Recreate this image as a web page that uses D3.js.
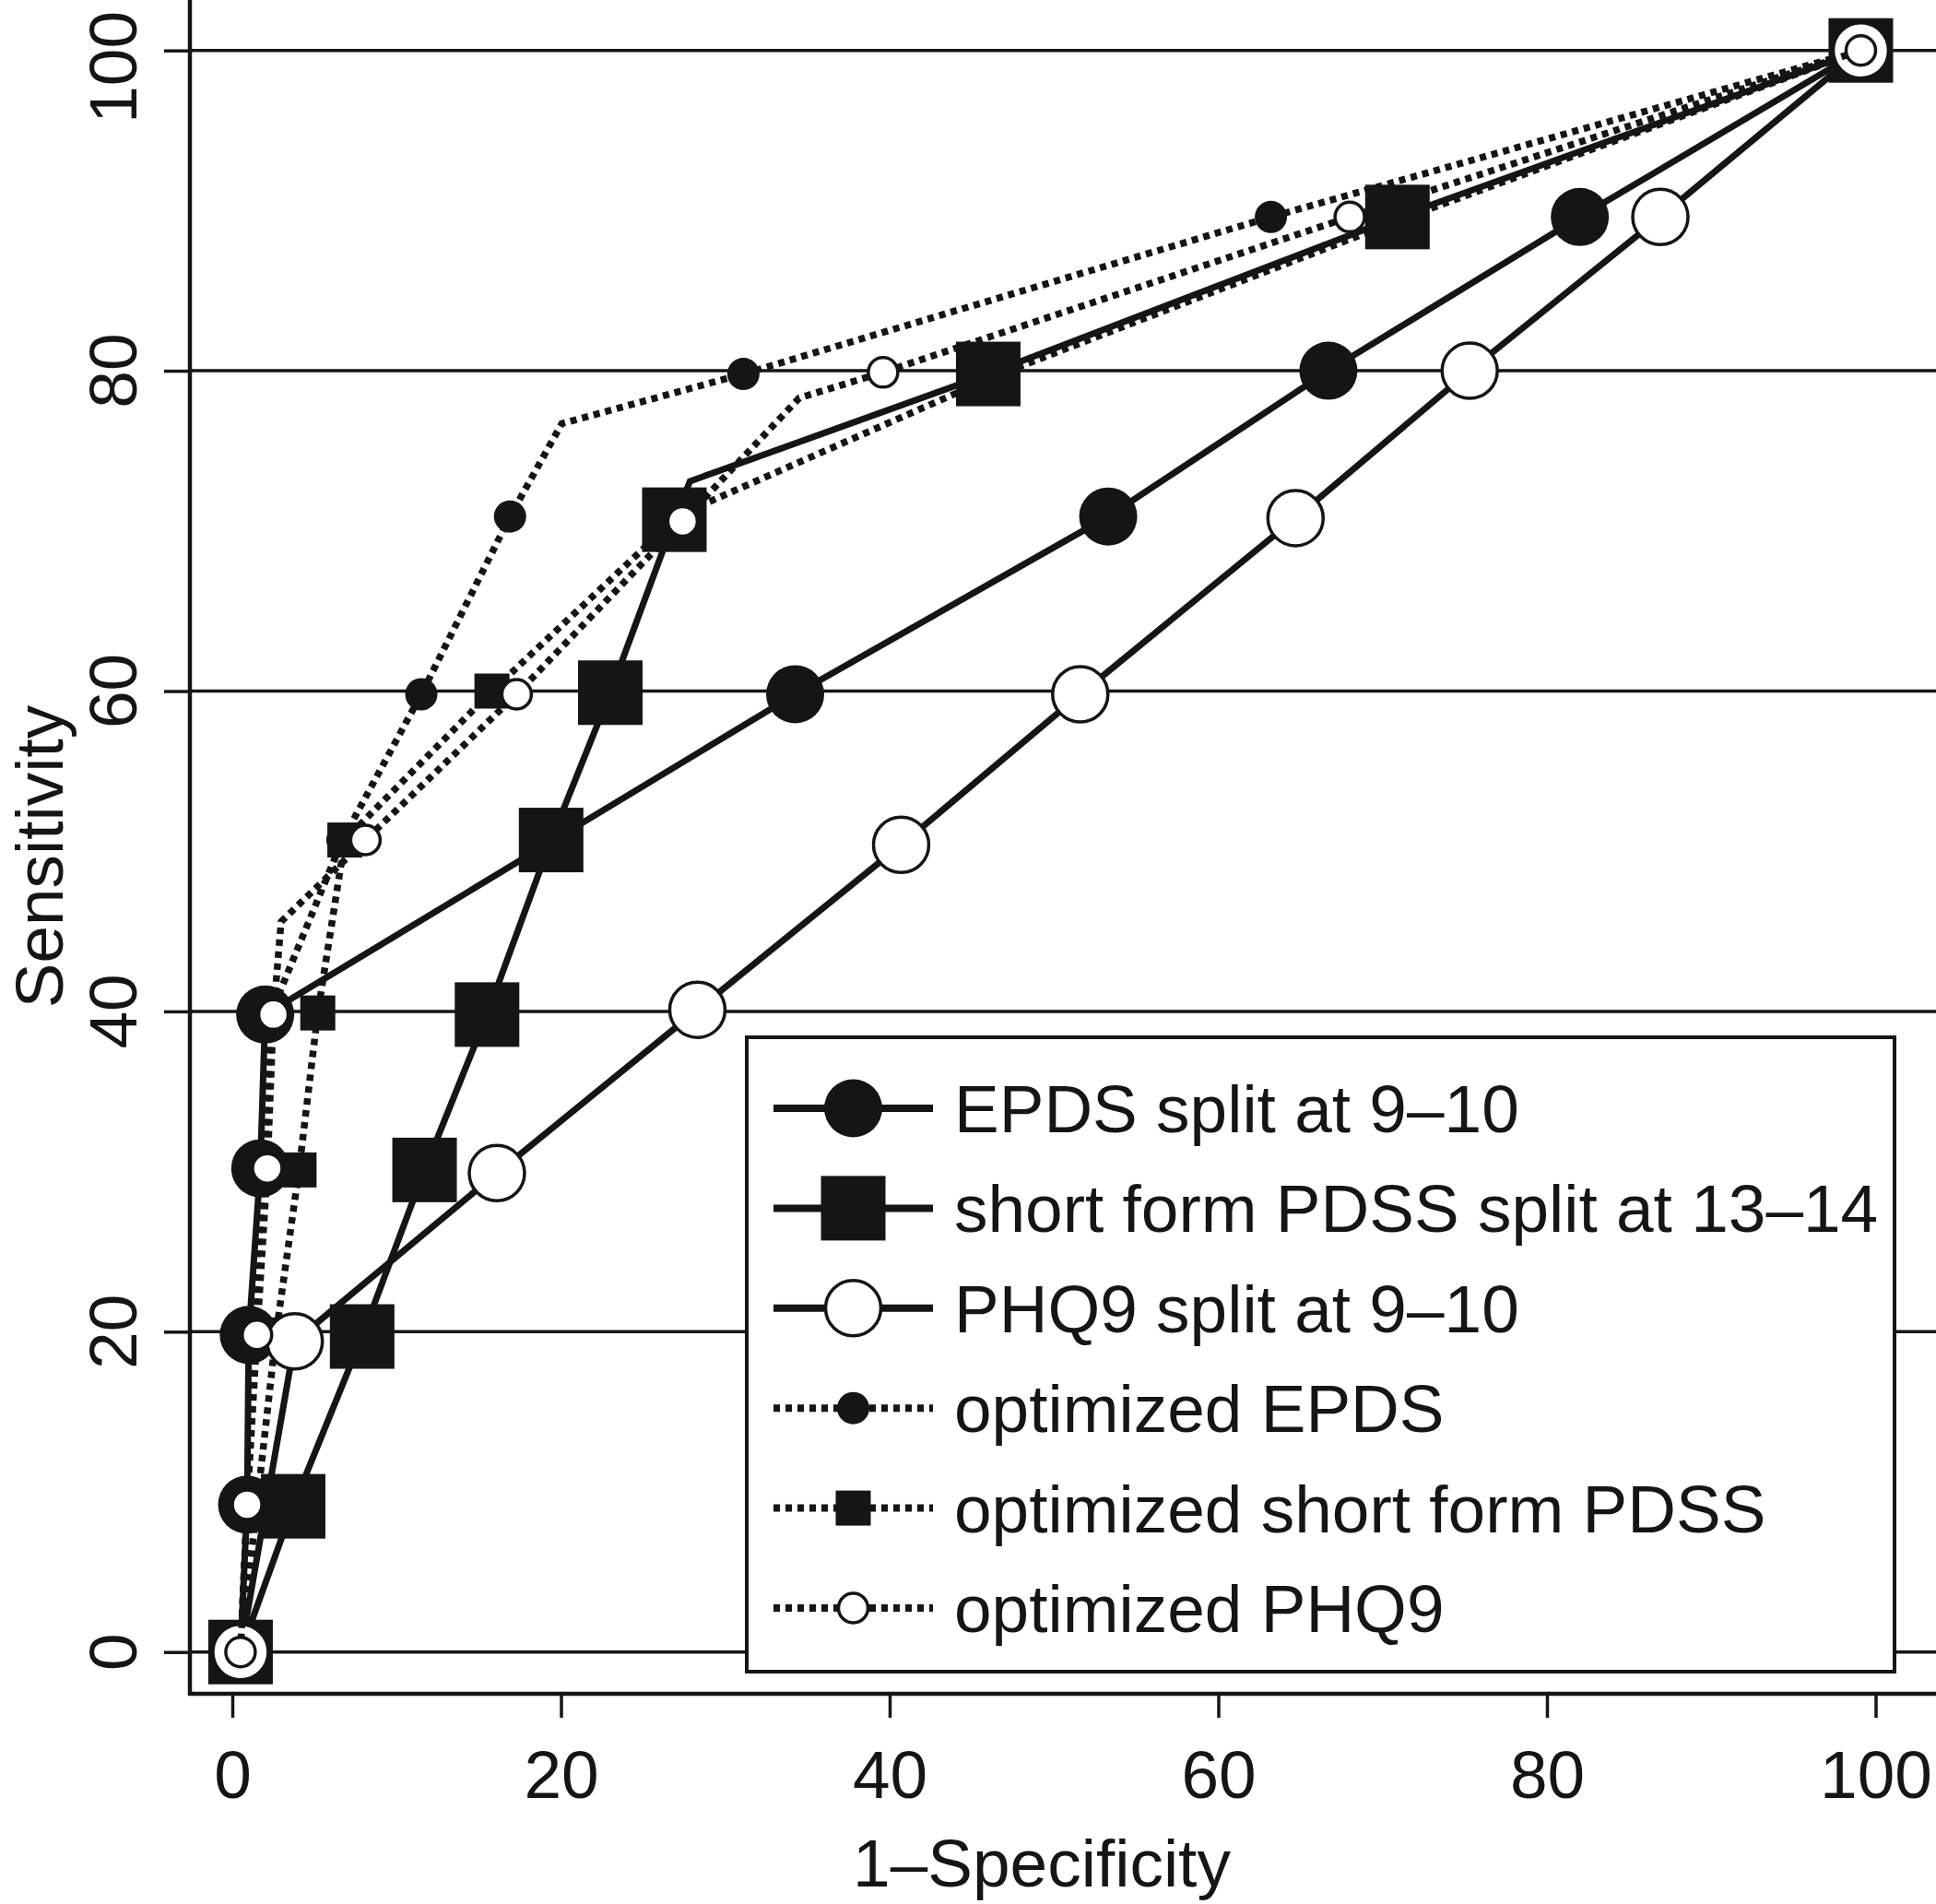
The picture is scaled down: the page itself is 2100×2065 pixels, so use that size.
<!DOCTYPE html>
<html><head><meta charset="utf-8">
<script src="https://cdn.jsdelivr.net/npm/d3@7"></script>
<style>html,body{margin:0;padding:0;background:#fff;}svg{display:block;}</style>
</head><body>
<script>
// ---- data ----
const xTicks = [0, 20, 40, 60, 80, 100];
const yTicks = [0, 20, 40, 60, 80, 100];

const epdsX = [0.5, 0.9, 1.0, 1.7, 2.0, 34.25, 53.3, 66.7, 82.0, 99.1];
const epdsY = [0, 9.2, 19.8, 30.2, 39.8, 59.8, 70.9, 80.0, 89.6, 100];
const epdsM = [1, 1, 1, 1, 1, 1, 1, 1, 1, 1];

const pdssX = [0.5, 3.7, 7.9, 11.7, 15.5, 19.4, 23.0, 26.9, 27.85, 46.0, 70.9, 99.1];
const pdssY = [0, 9.1, 19.7, 30.1, 39.8, 50.7, 59.9, 70.7, 73.1, 79.8, 89.6, 100];
const pdssM = [1, 1, 1, 1, 1, 1, 1, 1, 0, 1, 1, 1];

const phqX = [0.5, 3.8, 16.1, 28.3, 40.7, 51.6, 64.7, 75.3, 86.9, 99.1];
const phqY = [0, 19.4, 29.9, 40.1, 50.4, 59.8, 70.8, 80.0, 89.6, 100];
const phqM = [1, 1, 1, 1, 1, 1, 1, 1, 1, 1];

const optEpdsX = [0.5, 0.9, 1.2, 1.9, 2.4, 6.7, 11.5, 16.9, 20.05, 31.1, 63.2, 99.1];
const optEpdsY = [0, 9.2, 19.8, 30.2, 40.0, 50.7, 59.8, 70.9, 76.7, 79.8, 89.6, 100];
const optEpdsM = [1, 1, 1, 1, 1, 1, 1, 1, 0, 1, 1, 1];

const optPdssX = [0.5, 1.5, 2.65, 4.06, 5.2, 6.85, 15.8, 27.2, 46.5, 71.0, 99.1];
const optPdssY = [0, 9.2, 19.8, 30.1, 39.9, 50.7, 60.0, 71.0, 79.7, 89.4, 100];
const optPdssM = [1, 1, 1, 1, 1, 1, 1, 1, 1, 1, 1];

const optPhqX = [0.5, 0.9, 1.5, 2.13, 2.5, 2.97, 8.1, 17.3, 27.4, 34.5, 39.6, 68.0, 99.1];
const optPhqY = [0, 9.2, 19.8, 30.2, 39.8, 45.6, 50.7, 59.8, 70.6, 78.3, 79.9, 89.6, 100];
const optPhqM = [1, 1, 1, 1, 1, 0, 1, 1, 1, 0, 1, 1, 1];

const legendLabels = ["EPDS split at 9\u201310", "short form PDSS split at 13\u201314", "PHQ9 split at 9\u201310",
  "optimized EPDS", "optimized short form PDSS", "optimized PHQ9"];

// ---- styles ----
const INK = "#151515";
const W = 2100, H = 2065;
const FONT = "'Liberation Sans', Arial, Helvetica, sans-serif";
const FS = 73;

const series = [
  {key: "optEpds", xs: optEpdsX, ys: optEpdsY, ms: optEpdsM, dash: true, shape: "circle", size: "small", fill: INK},
  {key: "optPdss", xs: optPdssX, ys: optPdssY, ms: optPdssM, dash: true, shape: "square", size: "small", fill: INK},
  {key: "epds", xs: epdsX, ys: epdsY, ms: epdsM, dash: false, shape: "circle", size: "big", fill: INK},
  {key: "pdss", xs: pdssX, ys: pdssY, ms: pdssM, dash: false, shape: "square", size: "big", fill: INK},
  {key: "phq", xs: phqX, ys: phqY, ms: phqM, dash: false, shape: "circle", size: "big", fill: "#fff"},
  {key: "optPhq", xs: optPhqX, ys: optPhqY, ms: optPhqM, dash: true, shape: "circle", size: "small", fill: "#fff"}
];
const legendOrder = ["epds", "pdss", "phq", "optEpds", "optPdss", "optPhq"];

const svg = d3.select("body").append("svg").attr("width", W).attr("height", H)
  .style("font-family", FONT);

const x = d3.scaleLinear().domain([0, 100]).range([252, 2034.5]);
const y = d3.scaleLinear().domain([0, 100]).range([1791.7, 54.7]);

const axisX0 = 206, axisY0 = 1837;

// gridlines
svg.append("g").selectAll("line").data(yTicks).join("line")
  .attr("x1", axisX0).attr("x2", W)
  .attr("y1", d => y(d)).attr("y2", d => y(d))
  .attr("stroke", INK).attr("stroke-width", 3.5);

// x axis
const gx = svg.append("g").attr("transform", `translate(0,${axisY0})`)
  .call(d3.axisBottom(x).tickValues(xTicks).tickSize(26).tickPadding(35).tickSizeOuter(0));
gx.select(".domain").remove();
gx.selectAll(".tick line").attr("stroke", INK).attr("stroke-width", 3.5);
gx.selectAll(".tick text").attr("fill", INK).style("font-size", FS + "px").style("font-family", FONT);

// y axis
const gy = svg.append("g").attr("transform", `translate(${axisX0},0)`)
  .call(d3.axisLeft(y).tickValues(yTicks).tickSize(28).tickSizeOuter(0));
gy.select(".domain").remove();
gy.selectAll(".tick line").attr("stroke", INK).attr("stroke-width", 3.5);
gy.selectAll(".tick text").remove();
const yLab = svg.append("g").selectAll("text").data(yTicks).join("text")
  .attr("text-anchor", "middle").attr("fill", INK)
  .style("font-size", FS + "px").text(d => d);
// keep labels inside the picture (the top one is pushed down like in the reference)
yLab.each(function(d) {
  const half = this.getComputedTextLength() / 2;
  const cy = Math.max(y(d), half + 12);
  d3.select(this).attr("transform", `translate(148,${cy}) rotate(-90)`);
});

// frame lines
svg.append("line").attr("x1", axisX0).attr("x2", axisX0).attr("y1", 0).attr("y2", axisY0 + 2)
  .attr("stroke", INK).attr("stroke-width", 4.5);
svg.append("line").attr("x1", axisX0 - 2).attr("x2", W).attr("y1", axisY0).attr("y2", axisY0)
  .attr("stroke", INK).attr("stroke-width", 4.5);

// axis titles
svg.append("text").attr("x", 1130).attr("y", 2046).attr("text-anchor", "middle")
  .attr("fill", INK).style("font-size", FS + "px").text("1\u2013Specificity");
svg.append("text").attr("transform", "translate(68,929) rotate(-90)").attr("text-anchor", "middle")
  .attr("fill", INK).style("font-size", FS + "px").text("Sensitivity");

// marker drawing
function drawMarker(g, s, cx, cy) {
  if (s.shape === "circle") {
    const r = s.size === "big" ? 31.5 : 17.5;
    const c = g.append("circle").attr("cx", cx).attr("cy", cy).attr("r", r).attr("fill", s.fill);
    if (s.fill === "#fff") c.attr("stroke", INK).attr("stroke-width", 3.5).attr("r", r - 1.5);
  } else {
    const a = s.size === "big" ? 70 : 38;
    g.append("rect").attr("x", cx - a / 2).attr("y", cy - a / 2).attr("width", a).attr("height", a).attr("fill", s.fill);
  }
}

const line = d3.line().x(d => x(d[0])).y(d => y(d[1]));
const plot = svg.append("g");
series.forEach(s => {
  const pts = s.xs.map((v, i) => [v, s.ys[i], s.ms[i]]);
  const g = plot.append("g");
  g.append("path").attr("d", line(pts)).attr("fill", "none").attr("stroke", INK)
    .attr("stroke-width", s.dash ? 7.5 : 7).attr("stroke-linejoin", "miter")
    .attr("stroke-dasharray", s.dash ? "7,6" : null);
  pts.filter(p => p[2]).forEach(p => drawMarker(g, s, x(p[0]), y(p[1])));
});

// legend
const lg = svg.append("g");
lg.append("rect").attr("x", 810).attr("y", 1125).attr("width", 1245).attr("height", 688)
  .attr("fill", "#fff").attr("stroke", INK).attr("stroke-width", 4);
legendOrder.forEach((k, i) => {
  const s = series.find(d => d.key === k);
  const cy = 1202 + i * 108.4;
  const g = lg.append("g");
  g.append("line").attr("x1", 839).attr("x2", 1012).attr("y1", cy).attr("y2", cy)
    .attr("stroke", INK).attr("stroke-width", 8)
    .attr("stroke-dasharray", s.dash ? "7,6" : null);
  drawMarker(g, s, 925.5, cy);
  g.append("text").attr("x", 1035).attr("y", cy + 26).attr("fill", INK)
    .style("font-size", FS + "px").text(legendLabels[i]);
});
</script>
</body></html>
